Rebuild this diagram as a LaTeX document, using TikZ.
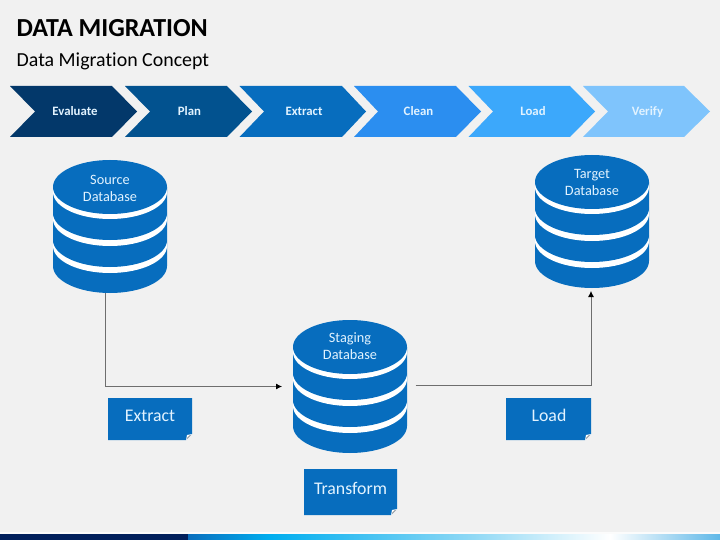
\documentclass[tikz,border=0pt]{standalone}
\usepackage{fontspec}
\setmainfont{Carlito}[Ligatures=NoCommon]
\usetikzlibrary{arrows.meta}
\definecolor{bgc}{HTML}{F1F1F1}
\definecolor{dbc}{HTML}{076DBE}
\definecolor{txtc}{HTML}{E2F3FF}
\definecolor{lnc}{HTML}{6E6E6E}
\definecolor{cA}{HTML}{03386A}
\definecolor{cB}{HTML}{02528F}
\definecolor{cC}{HTML}{076DBE}
\definecolor{cD}{HTML}{2B8EF0}
\definecolor{cE}{HTML}{3CA8FB}
\definecolor{cF}{HTML}{7FC4FC}
\definecolor{navy}{HTML}{02205C}
\definecolor{fa}{HTML}{0A6EBD}
\definecolor{fb}{HTML}{00AEEF}
\definecolor{fc}{HTML}{8ED8F5}
\definecolor{fd}{HTML}{5FB8E8}
\tikzset{
  chevtext/.style={text=txtc,font=\fontsize{12.8pt}{14pt}\selectfont\bfseries,inner sep=0pt,anchor=base},
  dbtext/.style={text=txtc,font=\fontsize{14.3pt}{16.8pt}\selectfont,align=center,inner sep=0pt},
  dbbox/.style={minimum width=114pt,minimum height=133pt,inner sep=0pt,draw=none},
  notebox/.style={inner sep=0pt,text=txtc,font=\fontsize{17.8pt}{20pt}\selectfont,anchor=base},
  conn/.style={draw=lnc,line width=0.8pt},
  tipped/.style={-{Latex[length=6pt,width=6pt,black]}},
}
% chevron: left x, notch x, top-right x, tip x, colour
\newcommand{\chevshape}[5]{%
  \fill[#5] (#1pt,-86pt) -- (#3pt,-86pt) -- (#4pt,-111.5pt) -- (#3pt,-137pt) -- (#1pt,-137pt) -- (#2pt,-111.5pt) -- cycle;}
% database: centre x, top y (px, downward)
\newcommand{\dbshape}[2]{%
  \begin{scope}[shift={(#1pt,-#2pt)},x=1pt,y=-1pt]
    \fill[dbc] (-57,80) -- (-57,106) arc[start angle=180,end angle=360,x radius=57pt,y radius=27pt] -- (57,80) -- cycle;
    \fill[white] (0,86) ellipse[x radius=57pt,y radius=27pt];
    \fill[dbc] (-57,53) -- (-57,80) arc[start angle=180,end angle=360,x radius=57pt,y radius=27pt] -- (57,53) -- cycle;
    \fill[white] (0,59) ellipse[x radius=57pt,y radius=27pt];
    \fill[dbc] (-57,27) -- (-57,53) arc[start angle=180,end angle=360,x radius=57pt,y radius=27pt] -- (57,27) -- cycle;
    \fill[white] (0,32) ellipse[x radius=57pt,y radius=27pt];
    \fill[dbc] (0,27) ellipse[x radius=57pt,y radius=27pt];
  \end{scope}}
% note: x0,y0,x1,y1
\newcommand{\noteshape}[4]{%
  \fill[dbc] (#1pt,-#2pt) -- (#3pt,-#2pt) -- (#3pt,-#4pt+6pt) -- (#3pt-6pt,-#4pt) -- (#1pt,-#4pt) -- cycle;
  \fill[white] (#3pt,-#4pt+6pt) -- (#3pt-6pt,-#4pt) -- (#3pt-5pt,-#4pt+5pt) -- cycle;
  \draw[lnc,line width=0.5pt] (#3pt-1.5pt,-#4pt+5pt) -- (#3pt-5pt,-#4pt+1.5pt);}
\begin{document}
\begin{tikzpicture}[x=1pt,y=1pt]
\useasboundingbox (0,-540) rectangle (720,0);
\fill[bgc] (0,-540) rectangle (720,0);

% footer band
\fill[white!75!bgc] (0,-534) rectangle (720,-532);
\fill[navy] (0,-540) rectangle (188,-534);
\shade[left color=fa,right color=fb] (188,-540) rectangle (270,-534);
\shade[left color=fb,right color=fc] (270,-540) rectangle (470,-534);
\shade[left color=fc,right color=white] (470,-540) rectangle (610,-534);
\shade[left color=white,right color=fd] (610,-540) rectangle (720,-534);

% titles
\node[anchor=base west,inner sep=0pt,font=\fontsize{26pt}{28pt}\selectfont\bfseries] (title) at (16.5,-37) {DATA MIGRATION};
\node[anchor=base west,inner sep=0pt,font=\fontsize{19.9pt}{22pt}\selectfont] (subtitle) at (16.5,-66.5) {Data Migration Concept};

% chevrons
\chevshape{10}{35}{112}{137}{cA}
\chevshape{125}{150}{227}{252}{cB}
\chevshape{239.5}{264}{342}{366}{cC}
\chevshape{354}{378}{456}{481}{cD}
\chevshape{468.5}{493}{570}{595}{cE}
\chevshape{583}{608}{684}{710}{cF}
\node[chevtext] (s1) at (75,-115.5) {Evaluate};
\node[chevtext] (s2) at (189.5,-115.5) {Plan};
\node[chevtext] (s3) at (304,-115.5) {Extract};
\node[chevtext] (s4) at (418.5,-115.5) {Clean};
\node[chevtext] (s5) at (533,-115.5) {Load};
\node[chevtext] (s6) at (647.5,-115.5) {Verify};

% databases
\dbshape{110}{160}
\dbshape{350}{320}
\dbshape{592}{155}
\node[dbbox] (src) at (110,-226.5) {};
\node[dbbox] (stg) at (350,-386.5) {};
\node[dbbox] (tgt) at (592,-221.5) {};
\node[dbtext] (srct) at (110,-188.5) {Source\\Database};
\node[dbtext] (stgt) at (350,-346.2) {Staging\\Database};
\node[dbtext] (tgtt) at (592,-182.5) {Target\\Database};

% notes
\noteshape{108}{398}{192}{440}
\noteshape{304}{469}{397}{515}
\noteshape{506}{398}{591}{440}
\node[notebox] (n1) at (150,-421) {Extract};
\node[notebox] (n2) at (350.5,-494) {Transform};
\node[notebox] (n3) at (549,-421) {Load};

% connectors
\coordinate (a0) at (105,-293);
\coordinate (a1) at (105,-386.5);
\coordinate (a2) at (282,-386.5);
\coordinate (b0) at (415.5,-385.5);
\coordinate (b1) at (591,-385.5);
\coordinate (b2) at (591,-291);
\draw[conn,tipped] (a0) -- (a1) -- (a2);
\draw[conn,tipped] (b0) -- (b1) -- (b2);
\end{tikzpicture}
\end{document}
